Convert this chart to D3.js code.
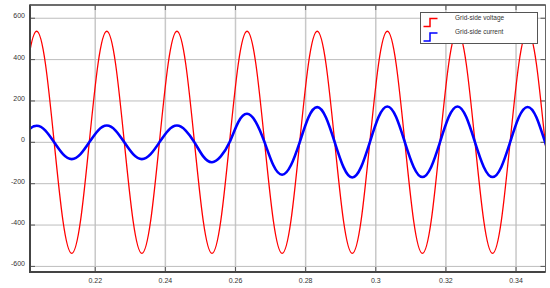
<!DOCTYPE html>
<html><head><meta charset="utf-8">
<script src="https://cdn.jsdelivr.net/npm/d3@7"></script>
<style>html,body{margin:0;padding:0;background:#fff;}svg{display:block;}</style>
</head><body>
<svg id="c" width="550" height="288"></svg>
<script>
const time = [0.1983,0.2008,0.2033,0.2058,0.2083,0.2108,0.2133,0.2158,0.2183,0.2208,0.2233,0.2258,0.2283,0.2308,0.2333,0.2358,0.2383,0.2408,0.2433,0.2458,0.2483,0.2508,0.2533,0.2558,0.2583,0.2608,0.2633,0.2658,0.2683,0.2708,0.2733,0.2758,0.2783,0.2808,0.2833,0.2858,0.2883,0.2908,0.2933,0.2958,0.2983,0.3008,0.3033,0.3058,0.3083,0.3108,0.3133,0.3158,0.3183,0.3208,0.3233,0.3258,0.3283,0.3308,0.3333,0.3358,0.3383,0.3408,0.3433,0.3458,0.3483,0.3508];
const voltage = [0,380,537,380,0,-380,-537,-380, 0,380,537,380,0,-380,-537,-380, 0,380,537,380,0,-380,-537,-380, 0,380,537,380,0,-380,-537,-380, 0,380,537,380,0,-380,-537,-380, 0,380,537,380,0,-380,-537,-380, 0,380,537,380,0,-380,-537,-380, 0,380,537,380,0,-380];
const current = [0,57,80,57,0,-57,-81,-57, 0,57,81,57,0,-57,-81,-57, 0,57,81,57,0,-68,-96,-68, 0,98,138,98,0,-111,-157,-111, 0,120,170,120,0,-120,-170,-120, 0,122,173,122,0,-119,-168,-119, 0,122,173,122,0,-119,-168,-119, 0,121,171,121,0,-119];
const xTicks = [0.22,0.24,0.26,0.28,0.30,0.32,0.34];
const xTickLabels = ["0.22","0.24","0.26","0.28","0.3","0.32","0.34"];
const yTicks = [-600,-400,-200,0,200,400,600];
const seriesNames = ["Grid-side voltage","Grid-side current"];
const seriesColors = ["#ff0000","#0000ff"];

const svg = d3.select("#c");
const L=30, R=545.5, T=5, B=272;
const x = d3.scaleLinear().domain([0.2014,0.3484]).range([L,R]);
const y = d3.scaleLinear().domain([-627,664]).range([B,T]);

svg.append("defs").append("clipPath").attr("id","clip")
  .append("rect").attr("x",L).attr("y",T).attr("width",R-L).attr("height",B-T);

// grid
const g = svg.append("g");
g.selectAll(".vg").data(xTicks).join("line")
  .attr("x1",d=>x(d)).attr("x2",d=>x(d)).attr("y1",T).attr("y2",B)
  .attr("stroke","#c8c8c8").attr("stroke-width",1.5);
g.selectAll(".hg").data(yTicks).join("line")
  .attr("x1",L).attr("x2",R).attr("y1",d=>y(d)).attr("y2",d=>y(d))
  .attr("stroke","#bdbdbd").attr("stroke-width",1);

// inside ticks
const tl=5;
g.selectAll(".tb").data(xTicks).join("line")
  .attr("x1",d=>x(d)).attr("x2",d=>x(d)).attr("y1",B).attr("y2",B-tl)
  .attr("stroke","#555").attr("stroke-width",1);
g.selectAll(".tt").data(xTicks).join("line")
  .attr("x1",d=>x(d)).attr("x2",d=>x(d)).attr("y1",T).attr("y2",T+tl)
  .attr("stroke","#555").attr("stroke-width",1);
g.selectAll(".tlft").data(yTicks).join("line")
  .attr("x1",L).attr("x2",L+tl).attr("y1",d=>y(d)).attr("y2",d=>y(d))
  .attr("stroke","#555").attr("stroke-width",1);
g.selectAll(".trt").data(yTicks).join("line")
  .attr("x1",R).attr("x2",R-tl).attr("y1",d=>y(d)).attr("y2",d=>y(d))
  .attr("stroke","#555").attr("stroke-width",1);

// lines
const pts = (vals)=>time.map((t,i)=>[t,vals[i]]);
const line = d3.line().x(d=>x(d[0])).y(d=>y(d[1])).curve(d3.curveNatural);
const plot = svg.append("g").attr("clip-path","url(#clip)");
plot.append("path").datum(pts(voltage)).attr("d",line)
  .attr("fill","none").attr("stroke",seriesColors[0]).attr("stroke-width",1.3);
plot.append("path").datum(pts(current)).attr("d",line)
  .attr("fill","none").attr("stroke",seriesColors[1]).attr("stroke-width",2.6);

// frame
svg.append("rect").attr("x",L).attr("y",T).attr("width",R-L).attr("height",B-T)
  .attr("fill","none").attr("stroke","#666").attr("stroke-width",1);
svg.append("line").attr("x1",L).attr("x2",L).attr("y1",T-0.5).attr("y2",B+1)
  .attr("stroke","#444").attr("stroke-width",2);
svg.append("line").attr("x1",L).attr("x2",R).attr("y1",B).attr("y2",B)
  .attr("stroke","#444").attr("stroke-width",2);
svg.append("line").attr("x1",L).attr("x2",R).attr("y1",T).attr("y2",T)
  .attr("stroke","#555").attr("stroke-width",1.5);

// labels
const font = "Arial, 'Liberation Sans', sans-serif";
svg.selectAll(".yl").data(yTicks).join("text")
  .attr("x",25).attr("y",d=>y(d)-2.5).attr("dy","0.35em")
  .attr("text-anchor","end").attr("font-family",font).attr("font-size",7)
  .attr("fill","#333").text(d=>d);
svg.selectAll(".xl").data(xTicks).join("text")
  .attr("x",d=>x(d)).attr("y",280.5).attr("dy","0.35em")
  .attr("text-anchor","middle").attr("font-family",font).attr("font-size",7)
  .attr("fill","#333").text((d,i)=>xTickLabels[i]);

// legend
const lg = svg.append("g");
lg.append("rect").attr("x",420.5).attr("y",12.5).attr("width",117).attr("height",31)
  .attr("fill","#fff").attr("stroke","#555").attr("stroke-width",1);
seriesNames.forEach((n,i)=>{
  const yl = i===0 ? 18.5 : 33;
  const yb = yl+8;
  lg.append("path")
    .attr("d",`M${423.5},${yb} H${430} V${yl} H${437.5}`)
    .attr("fill","none").attr("stroke",seriesColors[i]).attr("stroke-width",1.5);
  lg.append("text").attr("x",455).attr("y",yl-1).attr("dy","0.35em")
    .attr("font-family",font).attr("font-size",6.5).attr("fill","#333").text(n);
});
</script>
</body></html>
